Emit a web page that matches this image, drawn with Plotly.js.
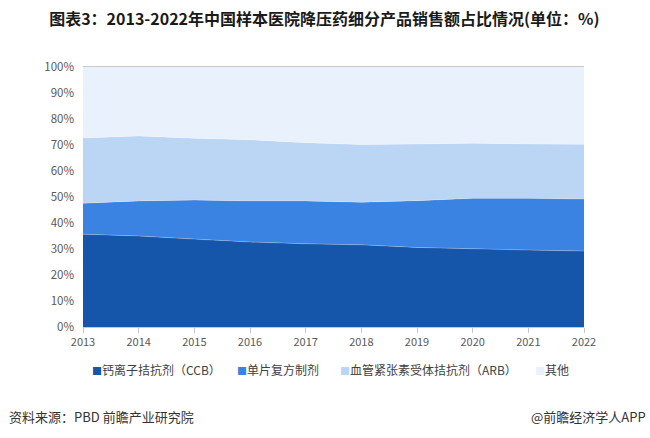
<!DOCTYPE html>
<html>
<head>
<meta charset="utf-8">
<script src="https://cdn.plot.ly/plotly-3.0.1.min.js"></script>
<style>
html,body{margin:0;padding:0;background:#fff;}
#chart{width:650px;height:438px;}
</style>
</head>
<body>
<div id="chart"></div>
<script>
const years = ['2013','2014','2015','2016','2017','2018','2019','2020','2021','2022'];
const seriesNames = ['钙离子拮抗剂（CCB）','单片复方制剂','血管紧张素受体拮抗剂（ARB）','其他'];
const ccb   = [35.7, 35.0, 33.8, 32.7, 32.0, 31.6, 30.6, 30.0, 29.6, 29.2];
const combo = [11.9, 13.5, 15.0, 15.8, 16.5, 16.4, 18.0, 19.5, 19.9, 20.0];
const arb   = [25.1, 25.0, 23.8, 23.5, 22.4, 22.2, 21.8, 21.2, 20.9, 21.1];
const other = [27.3, 26.5, 27.4, 28.0, 29.1, 29.8, 29.6, 29.3, 29.6, 29.7];
const colors = ['#1555AA','#3A83E2','#BBD5F4','#E9F1FC'];
const yTicks = [0,10,20,30,40,50,60,70,80,90,100];
const yTickText = yTicks.map(v => v + '%');

const FONT = '"Microsoft YaHei","Noto Sans CJK SC","Noto Sans",sans-serif';
const data = [ccb, combo, arb, other].map((vals, i) => ({
  type: 'scatter',
  mode: 'lines',
  x: years,
  y: vals,
  name: seriesNames[i],
  stackgroup: 'one',
  fillcolor: colors[i],
  line: {width: 0.6, color: 'rgba(255,255,255,0.35)', shape: 'linear'},
  hoverinfo: 'x+y+name'
}));

// legend as annotations
const legendX = [90, 235, 338, 533];
const annotations = seriesNames.map((n, i) => ({
  xref: 'paper', yref: 'paper',
  x: (legendX[i] - 83) / (584 - 83),
  y: -(369 - 327) / (327 - 67),
  xanchor: 'left', yanchor: 'middle',
  showarrow: false,
  text: '<span style="color:' + colors[i] + ';font-size:10px">■</span>' + n,
  font: {family: FONT, size: 12, color: '#404040'}
}));
annotations.push({
  xref: 'paper', yref: 'paper',
  x: (7 - 83) / (584 - 83), y: -(416 - 327) / (327 - 67),
  xanchor: 'left', yanchor: 'middle', showarrow: false,
  text: '资料来源：PBD 前瞻产业研究院',
  font: {family: FONT, size: 13, color: '#333333'}
});
annotations.push({
  xref: 'paper', yref: 'paper',
  x: (648 - 83) / (584 - 83), y: -(416 - 327) / (327 - 67),
  xanchor: 'right', yanchor: 'middle', showarrow: false,
  text: '@前瞻经济学人APP',
  font: {family: FONT, size: 13, color: '#333333'}
});

const layout = {
  width: 650, height: 438,
  margin: {l: 83, r: 66, t: 67, b: 111},
  paper_bgcolor: '#ffffff', plot_bgcolor: '#ffffff',
  showlegend: false,
  title: {
    text: '<b>图表3：2013-2022年中国样本医院降压药细分产品销售额占比情况(单位：%)</b>',
    font: {family: FONT, size: 16, color: '#1a1a1a'},
    x: 0.499, xanchor: 'center', y: 0.956, yanchor: 'middle'
  },
  xaxis: {
    type: 'category',
    range: [0, 9],
    showgrid: false,
    showline: true, linecolor: '#c8c8c8', linewidth: 1,
    mirror: true,
    ticks: 'outside', ticklen: 5, tickcolor: '#c8c8c8',
    tickfont: {family: FONT, size: 11, color: '#595959'},
    zeroline: false
  },
  yaxis: {
    range: [0, 100],
    tickvals: yTicks, ticktext: yTickText,
    showgrid: true, gridcolor: '#e0e0e0',
    showline: false, zeroline: false,
    ticks: '', ticklen: 0,
    ticklabelstandoff: 8,
    tickfont: {family: FONT, size: 11.5, color: '#595959'}
  },
  annotations: annotations
};

Plotly.newPlot('chart', data, layout, {displayModeBar: false, staticPlot: true});
</script>
</body>
</html>
